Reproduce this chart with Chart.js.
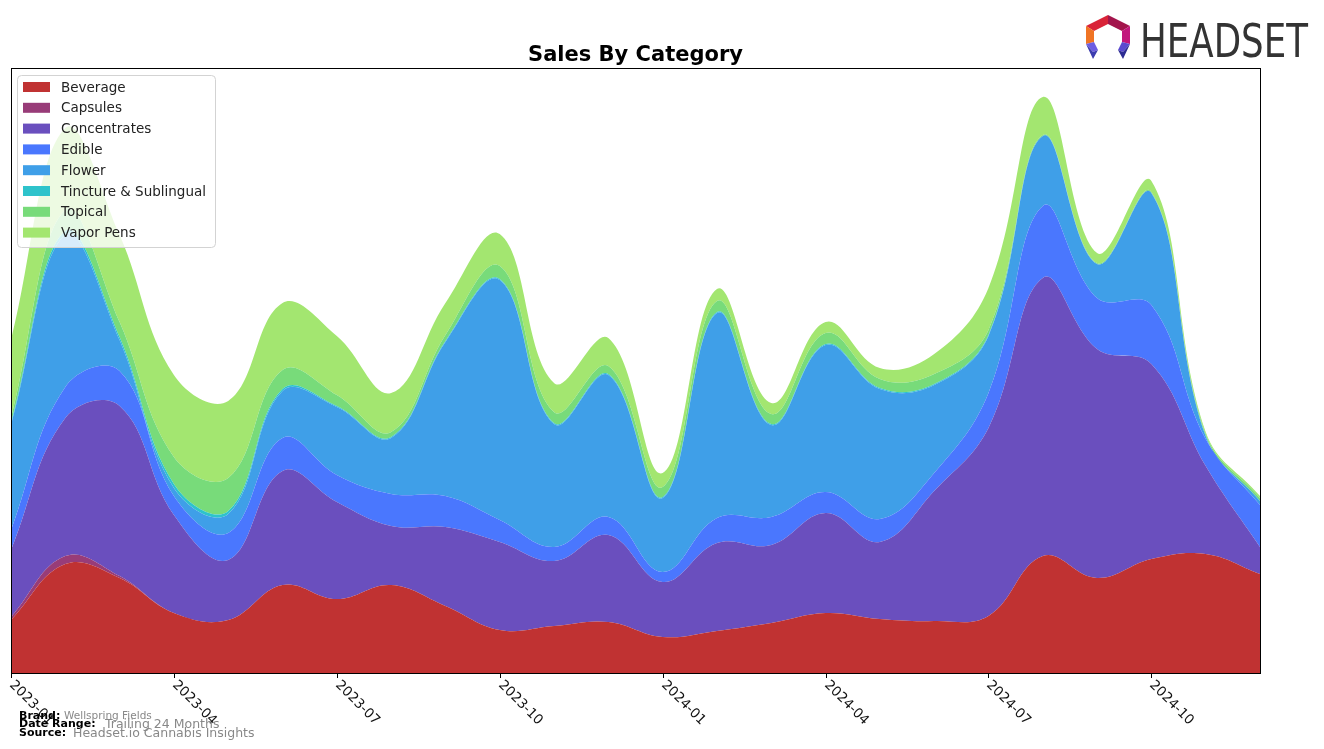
<!DOCTYPE html>
<html>
<head>
<meta charset="utf-8">
<script src="https://cdn.jsdelivr.net/npm/chart.js@4/dist/chart.umd.min.js"></script>
<style>
  html, body { margin: 0; padding: 0; background: #fff; }
  #wrap { position: relative; width: 1324px; height: 749px; }
  #logo { position: absolute; left: 1084px; top: 12px; }
</style>
</head>
<body>
<div id="wrap">
  <canvas id="salesChart" width="1324" height="749"></canvas>
  <svg id="logo" width="230" height="52" viewBox="0 0 230 52">
    <!-- кольцо логотипа -->
    <polygon points="2,14 24,3 24,12 10,19" fill="#d92438"/>
    <polygon points="24,3 46,14 38,19 24,12" fill="#a3154c"/>
    <polygon points="46,14 46,32 38,30 38,19" fill="#c2177c"/>
    <polygon points="2,14 10,19 10,30 2,32" fill="#f07424"/>
    <polygon points="2,32 10,30 14,38 9,40" fill="#6d5de2"/>
    <polygon points="2,32 9,40 14,38 9,47" fill="#3c3cae"/>
    <polygon points="46,32 38,30 34,38 39,40" fill="#5a4ad0"/>
    <polygon points="46,32 39,40 34,38 39,47" fill="#2c2c92"/>
    <text x="56" y="45" font-family="DejaVu Sans" font-size="47" fill="#333333"
          textLength="168" lengthAdjust="spacingAndGlyphs">HEADSET</text>
  </svg>
</div>
<script>
// месяцы (категории оси X)
const months = [
  "2023-01", "2023-02", "2023-03", "2023-04", "2023-05", "2023-06",
  "2023-07", "2023-08", "2023-09", "2023-10", "2023-11", "2023-12",
  "2024-01", "2024-02", "2024-03", "2024-04", "2024-05", "2024-06",
  "2024-07", "2024-08", "2024-09", "2024-10", "2024-11", "2024-12",
];
const tickLabels = ["2023-01", "2023-04", "2023-07", "2023-10", "2024-01", "2024-04", "2024-07", "2024-10"];

// значения по категориям (оценка по картинке)
const beverage     = [53, 109, 95, 60, 53, 88, 74, 88, 67, 43, 47, 51, 36, 42, 50, 60, 54, 52, 57, 117, 95, 114, 119, 99];
const capsules     = [3, 8, 2, 0, 0, 0, 0, 0, 0, 0, 0, 0, 0, 0, 0, 0, 0, 0, 0, 0, 0, 0, 0, 0];
const concentrates = [67, 138, 170, 98, 60, 114, 97, 59, 79, 88, 65, 87, 55, 88, 78, 100, 77, 130, 188, 278, 229, 195, 88, 27];
const edible       = [20, 31, 35, 19, 27, 33, 27, 32, 31, 22, 14, 18, 10, 25, 28, 21, 23, 18, 35, 72, 51, 59, 27, 42];
const flower       = [105, 152, 31, 8, 19, 47, 68, 56, 154, 240, 123, 142, 74, 205, 92, 147, 130, 88, 57, 70, 34, 112, 3, 4];
const tincture     = [2, 4, 3, 4, 3, 2, 1, 1, 1, 1, 1, 1, 1, 1, 1, 1, 1, 1, 1, 0, 0, 0, 0, 0];
const topical      = [5, 21, 15, 27, 33, 19, 11, 5, 6, 13, 11, 8, 10, 11, 10, 11, 9, 10, 5, 1, 1, 1, 2, 3];
const vaporPens    = [78, 82, 87, 82, 77, 67, 59, 39, 32, 32, 29, 28, 14, 12, 11, 11, 11, 20, 42, 38, 10, 11, 2, 2];

const series = [
  { label: "Beverage", data: beverage, color: "#c03232" },
  { label: "Capsules", data: capsules, color: "#983c78" },
  { label: "Concentrates", data: concentrates, color: "#6a4fbe" },
  { label: "Edible", data: edible, color: "#4a77fe" },
  { label: "Flower", data: flower, color: "#3f9fe8" },
  { label: "Tincture & Sublingual", data: tincture, color: "#2ec3cb" },
  { label: "Topical", data: topical, color: "#78db7a" },
  { label: "Vapor Pens", data: vaporPens, color: "#a3e670" },
];

// рамка, подписи, легенда, заголовок и подвал
const decorPlugin = {
  id: "decor",
  beforeDraw(chart) {
    const ctx = chart.ctx;
    ctx.save();
    ctx.fillStyle = "#fff";
    ctx.fillRect(0, 0, chart.width, chart.height);
    ctx.restore();
  },
  afterDatasetsDraw(chart) {
    const ctx = chart.ctx;
    const area = chart.chartArea;
    const xScale = chart.scales.x;
    ctx.save();

    // рамка
    ctx.strokeStyle = "#000";
    ctx.lineWidth = 1;
    ctx.strokeRect(area.left + 0.5, area.top + 0.5, area.right - area.left, area.bottom - area.top);

    // деления и подписи оси X
    ctx.fillStyle = "#111";
    ctx.font = "13.5px 'DejaVu Sans'";
    tickLabels.forEach((lab) => {
      const x = Math.round(xScale.getPixelForValue(months.indexOf(lab))) + 0.5;
      ctx.beginPath();
      ctx.moveTo(x, area.bottom);
      ctx.lineTo(x, area.bottom + 5);
      ctx.stroke();
      ctx.save();
      ctx.translate(x, area.bottom + 10);
      ctx.rotate(Math.PI / 4);
      ctx.textAlign = "left";
      ctx.textBaseline = "middle";
      ctx.fillText(lab, 0, 0);
      ctx.restore();
    });

    // легенда
    const lx = 17, ly = 75, lw = 198, lh = 172;
    ctx.beginPath();
    ctx.roundRect(lx + 0.5, ly + 0.5, lw, lh, 4);
    ctx.fillStyle = "rgba(255,255,255,0.8)";
    ctx.fill();
    ctx.strokeStyle = "#d3d3d3";
    ctx.stroke();
    ctx.font = "13.5px 'DejaVu Sans'";
    ctx.textBaseline = "middle";
    ctx.textAlign = "left";
    series.forEach((s, i) => {
      const cy = 87 + i * 20.8;
      ctx.fillStyle = s.color;
      ctx.fillRect(23, cy - 5, 27, 10);
      ctx.fillStyle = "#222";
      ctx.fillText(s.label, 61, cy + 1);
    });

    // заголовок
    ctx.fillStyle = "#000";
    ctx.font = "bold 21px 'DejaVu Sans'";
    ctx.textAlign = "center";
    ctx.textBaseline = "alphabetic";
    ctx.fillText("Sales By Category", (area.left + area.right) / 2, 61);

    // подвал
    ctx.textAlign = "left";
    ctx.font = "bold 11px 'DejaVu Sans'";
    ctx.fillStyle = "#000";
    ctx.fillText("Brand:", 19, 719);
    ctx.fillText("Date Range:", 19, 727);
    ctx.fillText("Source:", 19, 736);
    ctx.fillStyle = "#888";
    ctx.font = "10.5px 'DejaVu Sans'";
    ctx.fillText("Wellspring Fields", 64, 719);
    ctx.font = "12.5px 'DejaVu Sans'";
    ctx.fillText("Trailing 24 Months", 105, 728);
    ctx.fillText("Headset.io Cannabis Insights", 73, 737);

    ctx.restore();
  },
};

document.addEventListener("DOMContentLoaded", () => {
  const el = document.getElementById("salesChart");
  new Chart(el, {
    type: "line",
    data: {
      labels: months,
      datasets: series.map((s, i) => ({
        label: s.label,
        data: s.data,
        backgroundColor: s.color,
        borderColor: s.color,
        borderWidth: 0,
        pointRadius: 0,
        fill: i === 0 ? "origin" : "-1",
        tension: 0.4,
      })),
    },
    options: {
      responsive: false,
      animation: false,
      devicePixelRatio: 1,
      layout: { padding: { left: 11, right: 64, top: 68, bottom: 76 } },
      scales: {
        x: { display: false, stacked: true },
        y: { display: false, stacked: true, min: 0, max: 605 },
      },
      plugins: {
        legend: { display: false },
        title: { display: false },
        tooltip: { enabled: false },
      },
    },
    plugins: [decorPlugin],
  });
});
</script>
</body>
</html>
